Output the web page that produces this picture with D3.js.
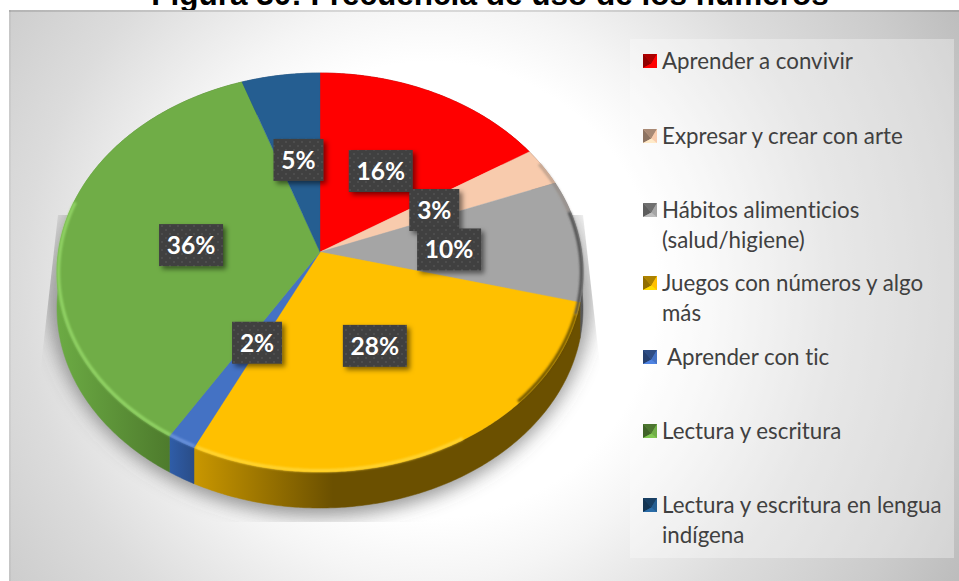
<!DOCTYPE html>
<html><head><meta charset="utf-8">
<script src="https://cdn.jsdelivr.net/npm/d3@7"></script>
<style>html,body{margin:0;padding:0;background:#fff;overflow:hidden}svg{display:block}</style>
</head><body><svg id="c" width="959" height="581"></svg>
<script>
const titleText = "Figura 30: Frecuencia de uso de los números";
const categories = ["Aprender a convivir","Expresar y crear con arte","Hábitos alimenticios (salud/higiene)","Juegos con números y algo más"," Aprender con tic","Lectura y escritura","Lectura y escritura en lengua indígena"];
const legendLines = [["Aprender a convivir"],["Expresar y crear con arte"],["Hábitos alimenticios","(salud/higiene)"],["Juegos con números y algo","más"],[" Aprender con tic"],["Lectura y escritura"],["Lectura y escritura en lengua","indígena"]];
const values = [16,3.1,9.9,28.2,1.6,35.9,5.3];
const colors = ["#ff0000","#f8cbad","#a5a5a5","#ffc000","#4472c4","#70ad47","#255e91"];
const wallLight = ["#990000","#95796a","#707070","#c99700","#2f5da8","#6cab44","#1d4a73"];
const wallDark  = ["#990000","#95796a","#555555","#6b5000","#2a4d88","#4d7a2c","#1d4a73"];
const wallFade  = [1,1,1,0.36,1,0.62,1];
const labelShift = [[-11,17.5],[-22,10],[-27,4.5],[-15,-20],[17,-19],[26,6],[3,18]];
const rimBands = [[62,78,"#8a7a70",0.5],[78,108,"#4a4a4a",0.95],[108,135,"#5a4500",0.9],[150,205.5,"#ffd83a",0.9],[205.9,211.7,"#6f97df",0.9],[211.7,285,"#93d566",1]];

const svg = d3.select("#c");
const defs = svg.append("defs");

// geometry of the perspective pie
const cx=320, cy=252, R=261.6, S=197.4, k=-0.1028, depth=36;
const xS=d3.scaleLinear().domain([-1,1]).range([cx-R,cx+R]);
const yS=d3.scaleLinear().domain([-1,1]).range([cy-S,cy+S]);
const project=(a,r=1)=>{const u=r*Math.sin(a),v=-r*Math.cos(a),w=1+k*v;return [xS(u/w),yS(v/w)];};
const arcs=d3.pie().sort(null).value(d=>d)(values);
const sample=(a0,a1)=>{const n=Math.max(2,Math.ceil((a1-a0)/0.01));return d3.range(n+1).map(i=>a0+(a1-a0)*i/n);};
const line=d3.line().curve(d3.curveLinear);
const rad=d=>d*Math.PI/180;

// title (clipped by the top of the page as in the original)
svg.append("text").attr("x",490).attr("y",5).attr("text-anchor","middle")
  .style("font","bold 31.5px 'Liberation Sans',Arial,sans-serif").attr("fill","#000").text(titleText);

// background
const bg=defs.append("radialGradient").attr("id","bg").attr("gradientUnits","userSpaceOnUse")
  .attr("cx",430).attr("cy",290).attr("r",600);
[[0,"#fff"],[.38,"#fff"],[.48,"#f5f5f5"],[.68,"#dcdcdc"],[.875,"#cbcbcb"],[1,"#bdbdbd"]].forEach(s=>bg.append("stop").attr("offset",s[0]).attr("stop-color",s[1]));
svg.append("rect").attr("x",9).attr("y",10).attr("width",950).attr("height",571).attr("fill","url(#bg)");
svg.append("rect").attr("x",9).attr("y",10).attr("width",950).attr("height",2).attr("fill","#000").attr("opacity",.12);
svg.append("rect").attr("x",9).attr("y",10).attr("width",2).attr("height",571).attr("fill","#000").attr("opacity",.04);

// legend panel
svg.append("rect").attr("x",630).attr("y",39).attr("width",324).attr("height",519).attr("fill","#fff").attr("opacity",.33);

// shadow, cut by a trapezoid
const blur=(id,s)=>defs.append("filter").attr("id",id).attr("x","-30%").attr("y","-30%").attr("width","160%").attr("height","160%")
  .append("feGaussianBlur").attr("stdDeviation",s);
blur("b10",9); blur("b1",1.1);
defs.append("clipPath").attr("id","shClip").append("path").attr("d","M58,215L583,215L601,375L601,522L38,522L40,375Z");
const shFade=defs.append("linearGradient").attr("id","shFill").attr("x1",0).attr("y1",0).attr("x2",0).attr("y2",1);
[[0,0.0],[.25,.25],[.55,.55],[1,.62]].forEach(s=>shFade.append("stop").attr("offset",s[0]).attr("stop-color","#555").attr("stop-opacity",s[1]));
svg.append("g").attr("clip-path","url(#shClip)").append("ellipse")
  .attr("cx",cx).attr("cy",cy+38).attr("rx",R+12).attr("ry",226).attr("fill","url(#shFill)").attr("filter","url(#b10)");

// side walls
arcs.forEach((d,i)=>{
  const pts=sample(d.startAngle,d.endAngle).map(a=>project(a));
  const xs=pts.map(p=>p[0]);
  const g=defs.append("linearGradient").attr("id","w"+i).attr("gradientUnits","userSpaceOnUse")
    .attr("x1",d3.min(xs)).attr("x2",d3.max(xs)).attr("y1",0).attr("y2",0);
  [[0,wallLight[i]],[wallFade[i],wallDark[i]],[1,wallDark[i]]].forEach(s=>g.append("stop").attr("offset",s[0]).attr("stop-color",s[1]));
  const poly=pts.concat(pts.slice().reverse().map(p=>[p[0],p[1]+depth]));
  svg.append("path").attr("d",line(poly)+"Z").attr("fill",`url(#w${i})`).attr("stroke",`url(#w${i})`).attr("stroke-width",.5);
});

// top faces
arcs.forEach((d,i)=>{
  const pts=[[cx,cy]].concat(sample(d.startAngle,d.endAngle).map(a=>project(a)));
  svg.append("path").attr("d",line(pts)+"Z").attr("fill",colors[i]).attr("stroke",colors[i]).attr("stroke-width",.4);
});

// soft bevel along the rim
rimBands.forEach(b=>{
  const pts=sample(rad(b[0]),rad(b[1])).map(a=>project(a,0.994));
  svg.append("path").attr("d",line(pts)).attr("fill","none").attr("stroke",b[2]).attr("stroke-opacity",b[3])
    .attr("stroke-width",3).attr("stroke-linecap","butt").attr("filter","url(#b1)");
});

// data labels
const pat=defs.append("pattern").attr("id","dots").attr("patternUnits","userSpaceOnUse").attr("width",8).attr("height",8);
pat.append("rect").attr("width",8).attr("height",8).attr("fill","#404040");
[[2,2],[6,6]].forEach(p=>pat.append("rect").attr("x",p[0]-.75).attr("y",p[1]-.75).attr("width",1.5).attr("height",1.5).attr("fill","#565656"));
const sh=defs.append("filter").attr("id","lab").attr("x","-30%").attr("y","-30%").attr("width","170%").attr("height","170%");
sh.append("feDropShadow").attr("dx",3).attr("dy",3).attr("stdDeviation",2.5).attr("flood-color","#000").attr("flood-opacity",.5);
const pct=d=>Math.round(d)+"%";
arcs.forEach((d,i)=>{
  const mid=(d.startAngle+d.endAngle)/2, p=project(mid,.6);
  const x=p[0]+labelShift[i][0], y=p[1]+labelShift[i][1];
  const w=values[i]>=9.5?64:50, h=42;
  svg.append("rect").attr("x",x-w/2).attr("y",y-h/2).attr("width",w).attr("height",h).attr("fill","url(#dots)").attr("filter","url(#lab)");
  svg.append("text").attr("x",x).attr("y",y+9).attr("text-anchor","middle")
    .style("font","bold 24.5px Lato,sans-serif").attr("fill","#fff").text(pct(values[i]));
});

// legend
const rowBase=[69,144,218,291,365,439,513];
const lh=29.5;
const mS=14;
const g=svg.append("g");
categories.forEach((c,i)=>{
  const y=rowBase[i]-15, x=643, col=d3.color(colors[i]);
  const mx=x+mS*.6,my=y+mS*.68;
  const tri=(a,b,f)=>g.append("path").attr("d",line([a,b,[mx,my]])+"Z").attr("fill",f);
  g.append("rect").attr("x",x).attr("y",y).attr("width",mS).attr("height",mS).attr("fill",colors[i]);
  tri([x,y],[x+mS,y],col.darker(1.1).formatHex());
  tri([x,y],[x,y+mS],col.darker(1.6).formatHex());
  tri([x+mS,y],[x+mS,y+mS],colors[i]);
  tri([x,y+mS],[x+mS,y+mS],col.brighter(.4).formatHex());
  legendLines[i].forEach((t,j)=>{
    g.append("text").attr("x",662).attr("y",rowBase[i]+j*lh).style("white-space","pre")
      .style("font","22.3px Lato,sans-serif").style("font-variant-ligatures","none").attr("fill","#404040").text(t);
  });
});
</script></body></html>
